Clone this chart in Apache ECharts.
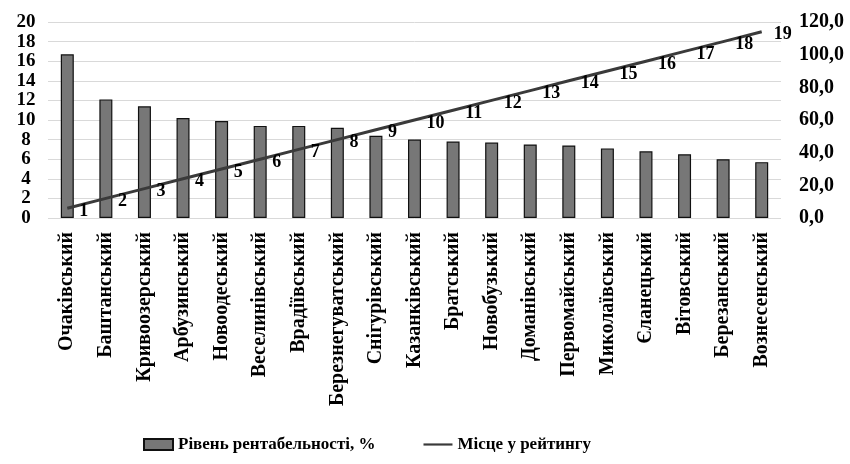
<!DOCTYPE html>
<html>
<head>
<meta charset="utf-8">
<script src="https://cdn.jsdelivr.net/npm/echarts@6/dist/echarts.min.js"></script>
<style>
  html, body { margin: 0; padding: 0; background: #fff; }
  #main { width: 850px; height: 464px; }
</style>
</head>
<body>
<div id="main"></div>
<script>
// райони
const districts = ['Очаківський', 'Баштанський', 'Кривоозерський', 'Арбузинський', 'Новоодеський',
  'Веселинівський', 'Врадіївський', 'Березнегуватський', 'Снігурівський', 'Казанківський',
  'Братський', 'Новобузький', 'Доманівський', 'Первомайський', 'Миколаївський',
  'Єланецький', 'Вітовський', 'Березанський', 'Вознесенський'];
// рівень рентабельності, %
const profitability = [16.7, 12.1, 11.4, 10.2, 9.9, 9.4, 9.4, 9.2, 8.4, 8.0,
  7.8, 7.7, 7.5, 7.4, 7.1, 6.8, 6.5, 6.0, 5.7];
// лінія рейтингу (права вісь)
const ratingLine = [6, 12, 18, 24, 30, 36, 42, 48, 54, 60, 66, 72, 78, 84, 90, 96, 102, 108, 114];
// підписи місць
const ratingPlace = [1, 2, 3, 4, 5, 6, 7, 8, 9, 10, 11, 12, 13, 14, 15, 16, 17, 18, 19];

const font = '"Liberation Serif", "Times New Roman", serif';
const chart = echarts.init(document.getElementById('main'));

const option = {
  animation: false,
  textStyle: { fontFamily: font },
  grid: { left: 48, right: 69, top: 22, bottom: 246 },
  legend: {
    bottom: 6,
    left: 138,
    itemGap: 48,
    itemWidth: 29,
    itemHeight: 11,
    textStyle: { fontFamily: font, fontWeight: 'bold', fontSize: 17, color: '#000' },
    data: [
      { name: 'Рівень рентабельності, %', icon: 'rect' },
      { name: 'Місце у рейтингу', icon: 'path://M0 0H40V3H0Z' }
    ]
  },
  xAxis: {
    type: 'category',
    data: districts,
    axisLine: { show: false },
    axisTick: { show: false },
    axisLabel: {
      rotate: 90,
      interval: 0,
      margin: 14,
      fontFamily: font,
      fontWeight: 'bold',
      fontSize: 20,
      color: '#000'
    }
  },
  yAxis: [
    {
      type: 'value',
      min: 0,
      max: 20,
      interval: 2,
      axisLine: { show: false },
      axisTick: { show: false },
      splitLine: { lineStyle: { color: '#d9d9d9', width: 1 } },
      axisLabel: {
        showMinLabel: true,
        showMaxLabel: true,
        margin: 22,
        align: 'center',
        fontFamily: font,
        fontWeight: 'bold',
        fontSize: 19,
        color: '#000'
      }
    },
    {
      type: 'value',
      min: 0,
      max: 120,
      interval: 20,
      axisLine: { show: false },
      axisTick: { show: false },
      splitLine: { show: false },
      axisLabel: {
        showMinLabel: true,
        showMaxLabel: true,
        margin: 18,
        align: 'left',
        fontFamily: font,
        fontWeight: 'bold',
        fontSize: 20,
        color: '#000',
        formatter: v => v.toFixed(1).replace('.', ',')
      }
    }
  ],
  series: [
    {
      name: 'Рівень рентабельності, %',
      type: 'bar',
      data: profitability,
      barWidth: 13,
      itemStyle: { color: '#777', borderColor: '#111', borderWidth: 1.2 }
    },
    {
      name: 'Місце у рейтингу',
      type: 'line',
      yAxisIndex: 1,
      data: ratingLine,
      symbol: 'circle',
      symbolSize: 0.1,
      lineStyle: { color: '#3a3a3a', width: 3 },
      itemStyle: { color: '#3a3a3a' },
      label: {
        show: true,
        position: 'right',
        distance: 12,
        offset: [0, 3],
        fontFamily: font,
        fontWeight: 'bold',
        fontSize: 18,
        color: '#000',
        formatter: p => ratingPlace[p.dataIndex]
      }
    }
  ]
};
chart.setOption(option);
</script>
</body>
</html>
